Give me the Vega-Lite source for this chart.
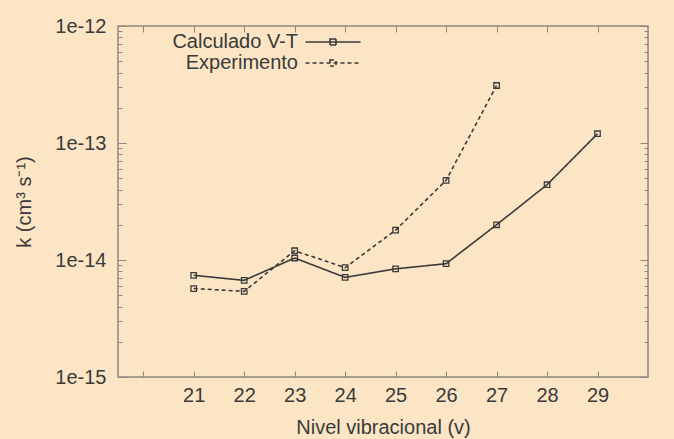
{
  "$schema": "https://vega.github.io/schema/vega-lite/v6.json",
  "width": 530,
  "height": 351,
  "autosize": {"type": "none"},
  "padding": {"left": 118, "top": 26, "right": 26, "bottom": 62},
  "background": "#fce5c4",
  "config": {
    "view": {"stroke": "#8c8780", "strokeWidth": 1.5},
    "font": "Liberation Sans",
    "axis": {
      "domain": false,
      "grid": false,
      "labelFont": "Liberation Sans",
      "labelFontSize": 20,
      "labelColor": "#3a3a3a",
      "titleFont": "Liberation Sans",
      "titleFontSize": 20,
      "titleFontWeight": "normal",
      "titleColor": "#3a3a3a",
      "tickColor": "#8c8780",
      "tickWidth": 1
    },
    "legend": {
      "labelFont": "Liberation Sans",
      "labelFontSize": 20,
      "labelColor": "#3a3a3a",
      "padding": 0
    }
  },
  "datasets": {
    "k": [
      {"serie": "Calculado V-T", "v": 21, "k": 7.4e-15},
      {"serie": "Calculado V-T", "v": 22, "k": 6.7e-15},
      {"serie": "Calculado V-T", "v": 23, "k": 1.04e-14},
      {"serie": "Calculado V-T", "v": 24, "k": 7.1e-15},
      {"serie": "Calculado V-T", "v": 25, "k": 8.4e-15},
      {"serie": "Calculado V-T", "v": 26, "k": 9.3e-15},
      {"serie": "Calculado V-T", "v": 27, "k": 2.0e-14},
      {"serie": "Calculado V-T", "v": 28, "k": 4.4e-14},
      {"serie": "Calculado V-T", "v": 29, "k": 1.2e-13},
      {"serie": "Experimento", "v": 21, "k": 5.7e-15},
      {"serie": "Experimento", "v": 22, "k": 5.4e-15},
      {"serie": "Experimento", "v": 23, "k": 1.2e-14},
      {"serie": "Experimento", "v": 24, "k": 8.6e-15},
      {"serie": "Experimento", "v": 25, "k": 1.8e-14},
      {"serie": "Experimento", "v": 26, "k": 4.8e-14},
      {"serie": "Experimento", "v": 27, "k": 3.1e-13}
    ]
  },
  "resolve": {"axis": {"x": "independent", "y": "independent"}},
  "layer": [
    {
      "data": {"name": "k"},
      "mark": {"type": "line", "color": "#3a3a3a", "strokeWidth": 1.6},
      "encoding": {
        "x": {
          "field": "v", "type": "quantitative",
          "scale": {"domain": [19.5, 30], "nice": false, "zero": false},
          "axis": {
            "orient": "bottom",
            "values": [20, 21, 22, 23, 24, 25, 26, 27, 28, 29],
            "labelExpr": "datum.value == 20 ? '' : datum.label",
            "tickSize": -6,
            "labelPadding": 14,
            "title": "Nivel vibracional (v)",
            "titlePadding": 12
          }
        },
        "y": {
          "field": "k", "type": "quantitative",
          "scale": {"type": "log", "domain": [1e-15, 1e-12], "nice": false},
          "axis": {
            "orient": "left",
            "values": [1e-15, 2e-15, 3e-15, 4e-15, 5e-15, 6e-15, 7e-15, 8e-15, 9e-15, 1e-14, 2e-14, 3e-14, 4e-14, 5e-14, 6e-14, 7e-14, 8e-14, 9e-14, 1e-13, 2e-13, 3e-13, 4e-13, 5e-13, 6e-13, 7e-13, 8e-13, 9e-13, 1e-12],
            "labelExpr": "abs(log(datum.value)/LN10 - round(log(datum.value)/LN10)) < 0.01 ? '1e' + round(log(datum.value)/LN10) : ''",
            "tickSize": {"condition": {"test": "abs(log(datum.value)/LN10 - round(log(datum.value)/LN10)) < 0.01", "value": -8}, "value": -4},
            "labelPadding": 20,
            "title": "k (cm³ s⁻¹)",
            "titlePadding": 20
          }
        },
        "strokeDash": {
          "field": "serie", "type": "nominal",
          "scale": {"domain": ["Calculado V-T", "Experimento"], "range": [[1, 0], [4, 3]]},
          "legend": {
            "title": null,
            "orient": "none",
            "legendX": 204,
            "legendY": 5,
            "symbolType": "M-2.75,0H2.75M-0.3,-0.3H0.3V0.3H-0.3Z",
            "symbolSize": 400,
            "symbolStrokeColor": "#3a3a3a",
            "symbolStrokeWidth": 1.6,
            "symbolFillColor": "transparent",
            "labelAlign": "right",
            "labelOffset": -46,
            "rowPadding": -1
          }
        }
      }
    },
    {
      "data": {"name": "k"},
      "mark": {"type": "point", "shape": "square", "filled": false, "color": "#3a3a3a", "size": 30, "strokeWidth": 1.3, "opacity": 1},
      "encoding": {
        "x": {
          "field": "v", "type": "quantitative",
          "axis": {"orient": "top", "values": [20, 21, 22, 23, 24, 25, 26, 27, 28, 29], "labels": false, "tickSize": -6, "title": null}
        },
        "y": {
          "field": "k", "type": "quantitative",
          "axis": {
            "orient": "right",
            "values": [1e-15, 2e-15, 3e-15, 4e-15, 5e-15, 6e-15, 7e-15, 8e-15, 9e-15, 1e-14, 2e-14, 3e-14, 4e-14, 5e-14, 6e-14, 7e-14, 8e-14, 9e-14, 1e-13, 2e-13, 3e-13, 4e-13, 5e-13, 6e-13, 7e-13, 8e-13, 9e-13, 1e-12],
            "labels": false,
            "tickSize": {"condition": {"test": "abs(log(datum.value)/LN10 - round(log(datum.value)/LN10)) < 0.01", "value": -8}, "value": -4},
            "title": null
          }
        }
      }
    },
    {
      "mark": {"type": "text", "text": "T=295 K", "align": "right", "baseline": "middle", "font": "Liberation Sans", "fontSize": 20, "color": "#3a3a3a"},
      "encoding": {
        "x": {"datum": 29.8, "type": "quantitative", "axis": null},
        "y": {"datum": 2.33e-13, "type": "quantitative", "axis": null}
      }
    }
  ]
}
